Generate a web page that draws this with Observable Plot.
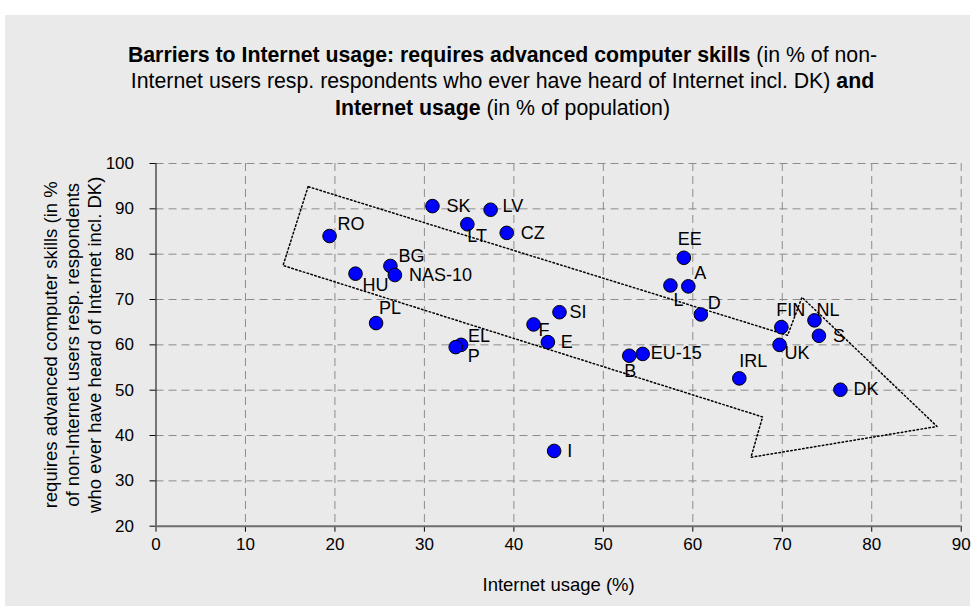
<!DOCTYPE html>
<html>
<head>
<meta charset="utf-8">
<script src="https://cdn.jsdelivr.net/npm/d3@7"></script>
<script src="https://cdn.jsdelivr.net/npm/@observablehq/plot@0.6"></script>
<style>
  html, body { margin: 0; padding: 0; background: #ffffff; }
  #page { position: relative; width: 975px; height: 610px; overflow: hidden; font-family: "Liberation Sans", Arial, sans-serif; }
  #bg { position: absolute; left: 5px; top: 15px; width: 965px; height: 591px; background: #eaeaea; }
  #title { position: absolute; left: 10px; width: 985px; top: 41.7px; text-align: center; font-size: 21.3px; line-height: 26.6px; color: #000; white-space: nowrap; }
  #chart { position: absolute; left: 0; top: 130px; }
</style>
</head>
<body>
<div id="page">
  <div id="bg"></div>
  <div id="title"><b>Barriers to Internet usage: requires advanced computer skills</b> (in % of non-<br>Internet users resp. respondents who ever have heard of Internet incl. DK) <b>and</b><br><b>Internet usage</b> (in % of population)</div>
  <div id="chart"></div>
</div>
<script>
// ---- data ----
const names   = ["RO","SK","LV","LT","CZ","BG","NAS-10","HU","PL","EL","P","F","E","SI","I","B","EU-15","L","EE","A","D","IRL","UK","FIN","NL","S","DK"];
const usage   = [19.4,30.9,37.4,34.8,39.2,26.2,26.7,22.3,24.6,34.1,33.5,42.2,43.8,45.1,44.5,52.9,54.4,57.5,59.0,59.5,60.9,65.2,69.7,69.9,73.6,74.1,76.5];
const barrier = [84.0,90.6,89.8,86.6,84.7,77.4,75.4,75.7,64.8,60.0,59.5,64.5,60.6,67.2,36.6,57.6,58.0,73.1,79.2,72.9,66.7,52.6,60.0,63.9,65.4,62.0,50.1];
const xTicks  = [0,10,20,30,40,50,60,70,80,90];
const yTicks  = [20,30,40,50,60,70,80,90,100];
// dotted trend arrow outline (data units)
const arrowX  = [17.0,14.2,67.8,66.5,87.3,72.2,70.6];
const arrowY  = [94.9,77.5,44.1,35.2,42.0,70.5,62.1];
const xLabel  = "Internet usage (%)";
const yLabel  = "requires advanced computer skills (in %\nof non-Internet users resp. respondents\nwho ever have heard of Internet incl. DK)";

// ---- label placement (layout only) ----
const labelOffset = {
  "RO":[8,-12], "SK":[14,0], "LV":[12,-4], "LT":[0,12], "CZ":[14,0], "BG":[8,-10],
  "NAS-10":[14,0], "HU":[7,12], "PL":[3,-15], "EL":[7,-9], "P":[12,9], "F":[5,6],
  "E":[13,0], "SI":[10,0], "I":[13,0], "B":[-5,16], "EU-15":[8,-1], "L":[3,15],
  "EE":[-6,-19], "A":[6,-13], "D":[7,-11], "IRL":[0,-17], "UK":[5,8], "FIN":[-5,-17],
  "NL":[2,-10], "S":[14,0], "DK":[13,0]
};

const points = names.map((n, i) => ({name: n, x: usage[i], y: barrier[i]}));
const arrow = arrowX.map((x, i) => ({x, y: arrowY[i]}));
arrow.push(arrow[0]);

const labelMarks = points.map(p => Plot.text([p], {
  x: "x", y: "y", text: "name",
  dx: labelOffset[p.name][0], dy: labelOffset[p.name][1],
  textAnchor: "start", lineAnchor: "middle", fontSize: 18, fill: "#000"
}));

const chart = Plot.plot({
  width: 975,
  height: 480,
  marginLeft: 155.5,
  marginRight: 14.3,
  marginTop: 33,
  marginBottom: 84.3,
  style: {background: "transparent", fontFamily: "'Liberation Sans', Arial, sans-serif", fontSize: "17px", color: "#000", overflow: "visible"},
  x: {domain: [0, 90], ticks: xTicks, tickSize: 6, tickPadding: 6, label: null},
  y: {domain: [20, 100], ticks: yTicks, tickSize: 6, tickPadding: 16, label: null},
  marks: [
    Plot.ruleX(xTicks.slice(1), {stroke: "#8c8c8c", strokeDasharray: "8,5"}),
    Plot.ruleY(yTicks.slice(1), {stroke: "#8c8c8c", strokeDasharray: "8,5"}),
    Plot.ruleX([0], {stroke: "#000", strokeWidth: 1}),
    Plot.ruleY([20], {stroke: "#6e6e6e", strokeWidth: 2}),
    Plot.line(arrow, {x: "x", y: "y", stroke: "#000", strokeWidth: 1.5, strokeDasharray: "1.5,2.5", curve: "linear"}),
    Plot.dot(points, {x: "x", y: "y", r: 6.8, fill: "#0000ff", stroke: "#000", strokeWidth: 1}),
    ...labelMarks,
    Plot.text([xLabel], {text: d => d, frameAnchor: "bottom", dy: 59.3, lineAnchor: "middle", textAnchor: "middle", fontSize: 18.5}),
    Plot.text([yLabel], {text: d => d, frameAnchor: "left", rotate: -90, dx: -83.8, lineAnchor: "middle", textAnchor: "middle", fontSize: 18.5, lineHeight: 1.17})
  ]
});
document.getElementById("chart").appendChild(chart);
</script>
</body>
</html>
